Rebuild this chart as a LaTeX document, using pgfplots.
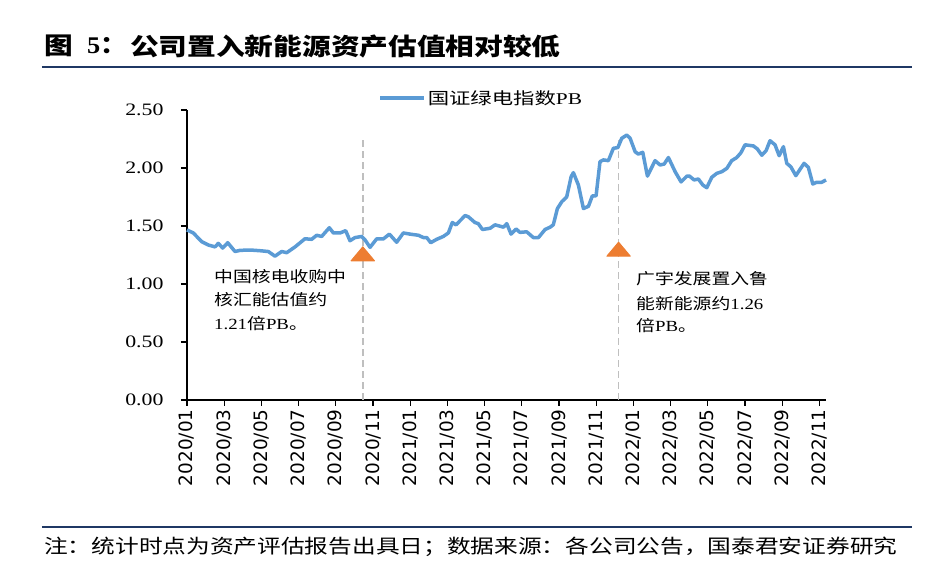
\documentclass[border=0pt]{standalone}
\usepackage{fontspec}
\setmainfont{Liberation Serif}
\newfontfamily\cjk{Noto Sans CJK SC}
\newfontfamily\dejavu{DejaVu Sans}
\usepackage{graphicx}
\usepackage{pgfplots}
\pgfplotsset{compat=1.18}
\definecolor{lineblue}{HTML}{5B9BD5}
\definecolor{triorange}{HTML}{ED7D31}
\definecolor{navy}{RGB}{31,56,100}
\definecolor{dashgray}{HTML}{BFBFBF}
\newcommand\hs[2][1.22]{\scalebox{#1}[1]{#2}}

\pgfplotstableread{
x y
0.00 1.466
0.34 1.44
0.79 1.365
1.15 1.336
1.51 1.32
1.68 1.35
1.92 1.31
2.19 1.356
2.58 1.28
2.85 1.29
3.39 1.293
3.92 1.287
4.37 1.28
4.73 1.24
5.09 1.28
5.36 1.27
5.81 1.32
6.34 1.39
6.70 1.385
6.97 1.42
7.24 1.41
7.65 1.485
7.87 1.44
8.23 1.44
8.53 1.46
8.76 1.373
9.03 1.40
9.39 1.41
9.57 1.38
9.84 1.316
10.20 1.39
10.55 1.388
10.88 1.43
11.27 1.36
11.63 1.44
11.99 1.43
12.44 1.42
12.71 1.40
12.89 1.40
13.10 1.356
13.42 1.385
13.78 1.41
14.05 1.44
14.26 1.53
14.46 1.51
14.95 1.59
15.12 1.58
15.48 1.53
15.66 1.52
15.88 1.47
16.29 1.48
16.56 1.51
17.01 1.49
17.19 1.52
17.42 1.43
17.69 1.474
17.90 1.445
18.26 1.45
18.62 1.40
18.89 1.40
19.25 1.47
19.52 1.49
19.69 1.51
19.91 1.65
20.15 1.71
20.41 1.75
20.65 1.925
20.77 1.96
21.04 1.853
21.31 1.65
21.58 1.67
21.79 1.76
21.99 1.76
22.20 2.054
22.38 2.07
22.65 2.063
22.92 2.17
23.16 2.176
23.37 2.256
23.64 2.284
23.82 2.256
24.09 2.14
24.26 2.12
24.50 2.135
24.75 1.93
25.16 2.063
25.43 2.026
25.65 2.034
25.88 2.09
26.24 1.968
26.56 1.88
26.87 1.93
27.01 1.93
27.26 1.897
27.49 1.905
27.73 1.853
27.94 1.83
28.21 1.92
28.48 1.954
28.75 1.968
29.02 1.997
29.28 2.063
29.55 2.09
29.77 2.13
30.00 2.20
30.45 2.19
30.66 2.164
30.90 2.11
31.13 2.15
31.34 2.235
31.61 2.20
31.83 2.106
32.06 2.184
32.24 2.04
32.46 2.01
32.73 1.934
32.96 1.99
33.17 2.04
33.40 2.006
33.64 1.862
33.85 1.877
34.12 1.877
34.35 1.897
}\pbdata

\begin{document}
\begin{tikzpicture}[x=1bp,y=1bp]
\useasboundingbox (-187,-176) rectangle (745,400);
\begin{axis}[
  at={(0,0)}, anchor=south west,
  scale only axis, width=639bp, height=290bp,
  xmin=0, xmax=34.35, ymin=0, ymax=2.5,
  axis x line*=bottom, axis y line*=left,
  axis line style={black, line width=1.2bp, -},
  x axis line style={-}, y axis line style={-},
  tick align=outside, major tick length=6bp,
  tick style={black, line width=1.2bp},
  xtick={0,2,4,6,8,10,12,14,16,18,20,22,24,26,28,30,32,34},
  xticklabels={2020/01,2020/03,2020/05,2020/07,2020/09,2020/11,2021/01,2021/03,2021/05,2021/07,2021/09,2021/11,2022/01,2022/03,2022/05,2022/07,2022/09,2022/11},
  ytick={0,0.5,1,1.5,2,2.5},
  /pgf/number format/assume math mode=true,
  yticklabel={\hs[1.25]{\pgfmathprintnumber[fixed,fixed zerofill,precision=2]{\tick}}},
  yticklabel style={font=\fontsize{17.5}{17.5}\selectfont, xshift=-14bp},
  xticklabel style={font=\dejavu\fontsize{18.5}{18.5}\selectfont, rotate=90, anchor=east},
  legend style={at={(axis description cs:0.299,1.041)}, anchor=west, draw=none, fill=none,
    inner sep=0pt, font=\fontsize{16.5}{16.5}\selectfont},
  legend image code/.code={\draw[#1, line width=3.5bp] (0bp,0bp) -- (44bp,0bp);},
  clip=false,
]
\addplot[dashgray, line width=1.8bp, dash pattern=on 7bp off 4bp, forget plot] coordinates {(9.45,0) (9.45,2.25)};
\addplot[dashgray, line width=1.8bp, dash pattern=on 7bp off 4bp, forget plot] coordinates {(23.2,0) (23.2,2.27)};
\addplot[lineblue, line width=3.5bp, line join=round, no marks] table[x=x,y=y] {\pbdata};
\addlegendentry{\hs[1.3]{{\cjk 国证绿电指数}PB}}
\addplot[only marks, mark=triangle*, mark size=9.3bp, forget plot,
  mark options={fill=triorange, draw=triorange, xscale=1.45, line join=round, line width=1bp}]
  coordinates {(9.45,1.24) (23.2,1.28)};
\end{axis}
% title
\node[anchor=west, inner sep=0pt] at (-143,354) {\fontsize{24}{24}\selectfont\hs[1.2]{{\cjk\bfseries 图}}};
\node[anchor=west, inner sep=0pt] at (-100,354) {\fontsize{24}{24}\selectfont\hs[1.1]{{\bfseries 5}{\cjk\bfseries ：}}};
\node[anchor=west, inner sep=0pt] at (-57,354) {\fontsize{24}{24}\selectfont\hs[1.2]{\cjk\bfseries 公司置入新能源资产估值相对较低}};
\draw[navy, line width=2.5bp] (-145,333) -- (725,333);
% annotations
\begin{scope}[every node/.style={anchor=west, inner sep=0pt, font=\fontsize{15.5}{15.5}\selectfont}]
\node at (27,123) {\hs{\cjk 中国核电收购中}};
\node at (27,100) {\hs{\cjk 核汇能估值约}};
\node at (27,76) {\hs{1.21{\cjk 倍}PB{\cjk 。}}};
\node at (449,121) {\hs{\cjk 广宇发展置入鲁}};
\node at (449,96.5) {\hs{{\cjk 能新能源约}1.26}};
\node at (449,74) {\hs{{\cjk 倍}PB{\cjk 。}}};
\end{scope}
% footer
\draw[navy, line width=2bp] (-145,-127) -- (725,-127);
\node[anchor=west, inner sep=0pt] at (-143,-147) {\fontsize{19.5}{19.5}\selectfont\hs[1.22]{\cjk 注：统计时点为资产评估报告出具日；数据来源：各公司公告，国泰君安证券研究}};
\end{tikzpicture}
\end{document}
